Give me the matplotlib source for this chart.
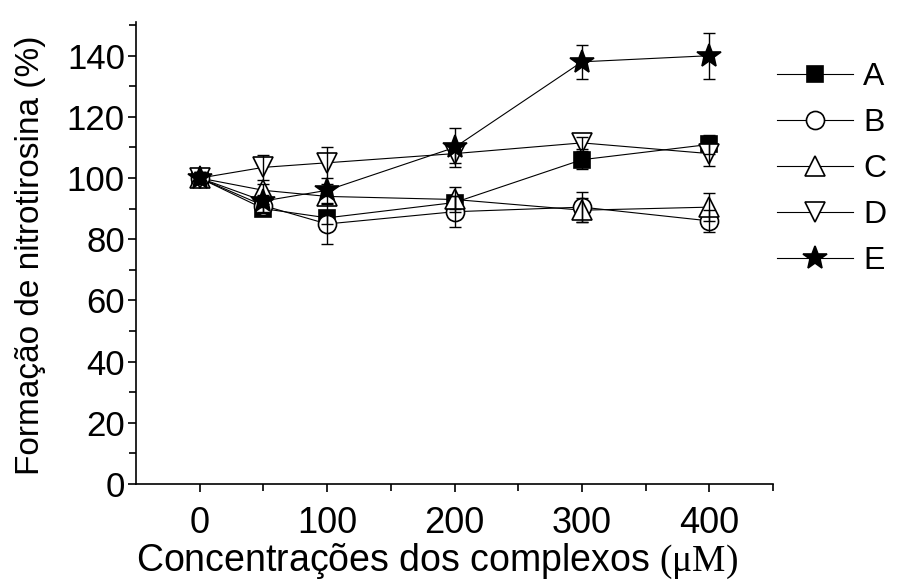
import matplotlib
matplotlib.use('Agg')
import matplotlib.pyplot as plt
from matplotlib.lines import Line2D
from matplotlib.ticker import MultipleLocator, FixedLocator

plt.rcParams['font.family'] = ['Liberation Sans', 'DejaVu Sans']
plt.rcParams['mathtext.fontset'] = 'custom'
plt.rcParams['mathtext.rm'] = 'Liberation Serif'

# ---- data ----
conc = [0, 50, 100, 200, 300, 400]
labels = ['A', 'B', 'C', 'D', 'E']
A_vals = [100, 90, 87, 92, 106, 111]
B_vals = [100, 91, 85, 89, 90.5, 86]
C_vals = [100, 96, 94, 93, 89.5, 90.5]
D_vals = [100, 103.5, 105, 108, 111.5, 108]
E_vals = [100, 92.5, 96, 110, 138, 140]
A_err = [1.5, 1.5, 2, 2, 3, 3]
B_err = [2, 2, 6.5, 5, 5, 3.5]
C_err = [2, 2, 2, 4, 4, 4.5]
D_err = [1.5, 4, 5, 3, 2, 4]
E_err = [2, 2, 2, 6.5, 5.5, 7.5]
xticks = [0, 100, 200, 300, 400]
yticks = [0, 20, 40, 60, 80, 100, 120, 140]

series = [
    (A_vals, A_err, dict(marker='s', ms=12, mfc='black')),
    (B_vals, B_err, dict(marker='o', ms=13, mfc='white')),
    (C_vals, C_err, dict(marker='^', ms=15, mfc='white')),
    (D_vals, D_err, dict(marker='v', ms=15, mfc='white')),
    (E_vals, E_err, dict(marker='*', ms=18, mfc='black')),
]

fig = plt.figure(figsize=(9.01, 5.8), dpi=100)
ax = fig.add_axes([0.151, 0.1655, 0.707, 0.7965])

handles = []
for (vals, err, st), lab in zip(series, labels):
    ax.plot(conc, vals, '-', color='black', lw=0.8, zorder=1)
    ax.plot(conc, vals, ls='none', marker=st['marker'], ms=st['ms'],
            mfc=st['mfc'], mec='black', mew=1.2, zorder=2)
    ax.errorbar(conc, vals, yerr=err, fmt='none', ecolor='black',
                elinewidth=1, capsize=4, capthick=1, zorder=3)
    handles.append(Line2D([], [], color='black', lw=0.8, marker=st['marker'],
                          ms=st['ms'], mfc=st['mfc'], mec='black', mew=1.2))

ax.set_xlim(-50, 450)
ax.set_ylim(0, 151)
ax.xaxis.set_major_locator(FixedLocator(xticks))
ax.xaxis.set_minor_locator(FixedLocator([50, 150, 250, 350, 450]))
ax.yaxis.set_major_locator(FixedLocator(yticks))
ax.yaxis.set_minor_locator(MultipleLocator(10))
for s in ['top', 'right']:
    ax.spines[s].set_visible(False)
for s in ['left', 'bottom']:
    ax.spines[s].set_linewidth(1.2)
ax.tick_params(which='major', direction='out', length=6, width=1.2,
               labelsize=25, pad=2)
ax.tick_params(axis='x', which='major', labelsize=26, pad=10)
ax.tick_params(which='minor', direction='out', length=5, width=1.2)

ax.set_xlabel('Concentrações dos complexos $\\mathrm{(μM)}$', fontsize=27, labelpad=0)
ax.xaxis.set_label_coords(0.4725, -0.125)
ax.set_ylabel('Formação de nitrotirosina (%)', fontsize=24)
ax.yaxis.set_label_coords(-0.142, 0.495)

fig.legend(handles, labels, loc='upper left', bbox_to_anchor=(0.862, 0.893),
           frameon=False, fontsize=23, handlelength=2.4, handletextpad=0.3,
           labelspacing=0.5, borderaxespad=0, borderpad=0)

fig.savefig('out.png', dpi=100)
